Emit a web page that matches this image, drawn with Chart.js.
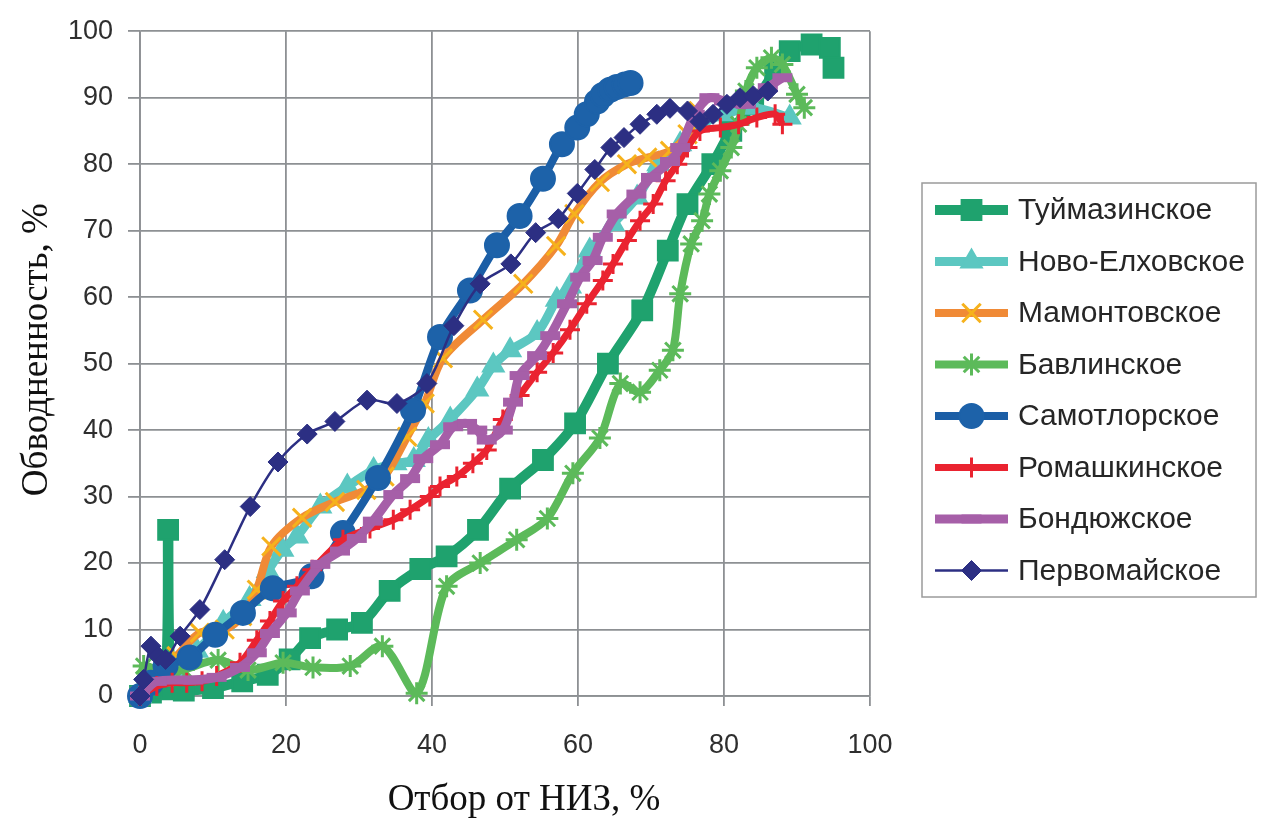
<!DOCTYPE html>
<html>
<head>
<meta charset="utf-8">
<script src="https://cdn.jsdelivr.net/npm/chart.js@4.4.1/dist/chart.umd.min.js"></script>
<style>
  html, body { margin: 0; padding: 0; background: #ffffff; }
  canvas { display: block; }
</style>
</head>
<body>
<canvas id="chart" width="1265" height="819"></canvas>
<script>
// Field names (legend order)
const fieldNames = [
  'Туймазинское', 'Ново-Елховское', 'Мамонтовское', 'Бавлинское',
  'Самотлорское', 'Ромашкинское', 'Бондюжское', 'Первомайское'
];

// Отбор от НИЗ (x, %) and обводненность (y, %) for each field
const tuymX = [0, 1.5, 3.4, 3.85, 4.3, 6, 10, 14, 17.5, 20.5, 23.3, 27, 30.4, 34.2, 38.4, 42, 46.3, 50.7, 55.2, 59.6, 64.1, 68.8, 72.3, 75, 78.4, 81, 84, 87, 89, 92, 94.5, 95];
const tuymY = [0, 0.5, 1, 25, 1.2, 0.8, 1.2, 2.2, 3.2, 5.5, 8.7, 10, 11, 15.8, 19.1, 21, 25, 31.2, 35.5, 41, 50, 58, 67, 74, 80, 85, 89, 94, 97, 98, 97.5, 94.5];

const novoX = [0, 3, 5, 7.8, 11.4, 15, 17.5, 19.5, 21.5, 24.7, 28.4, 32, 35, 37.5, 39.5, 42.5, 46.2, 48.4, 50.7, 54.4, 57.1, 58.9, 61.6, 64.8, 68.1, 71, 74, 77, 80, 84, 89];
const novoY = [0, 2.5, 4, 6.8, 11, 14.6, 18.8, 22, 24, 28.5, 31.5, 34, 35, 35.5, 38.5, 41.6, 46.1, 49.7, 52, 54.6, 59.6, 61.6, 67, 71, 75, 80, 83, 86, 87.5, 88.5, 87];

const mamX = [0, 2, 5, 8.2, 11.6, 14, 16, 18, 22.2, 26.7, 31, 33.5, 36.6, 39, 41.5, 47, 52.5, 57, 59.5, 63, 66.7, 69.5, 72.6, 75, 76.5];
const mamY = [0, 3, 6, 9.5, 10, 12, 16, 22.5, 26.8, 29.2, 31, 33, 39, 44, 50.8, 56.6, 62, 67.7, 72.5, 77.3, 80, 81, 82, 84.5, 88];

const bavX = [0, 0.5, 3, 6, 10.7, 14.8, 19.6, 23.7, 28.8, 33.2, 37.9, 42, 46.6, 51.6, 55.8, 59.3, 63, 65.8, 68.5, 71.2, 73, 74, 75.5, 77, 78, 79.5, 81, 82, 83, 84.5, 86.5, 88, 90, 91];
const bavY = [0, 4.5, 3.5, 4, 5.4, 3.9, 5, 4.3, 4.5, 7.5, 0.4, 16.5, 20, 23.5, 26.7, 33.5, 38.8, 47, 45.7, 49, 52, 60.5, 68, 71.5, 75.5, 79, 82.5, 86, 91, 94.5, 96, 95, 90.5, 88.5];

const samX = [0, 1.5, 3.5, 6.8, 10.3, 14.1, 18.2, 23.5, 27.8, 32.6, 37.4, 41.1, 45.2, 48.9, 52, 55.2, 57.8, 59.9, 61.2, 62.6, 63.4, 64.4, 65.3, 66.4, 67.2];
const samY = [0, 2, 4.5, 5.8, 9.2, 12.5, 16.2, 18, 24.5, 32.8, 43, 54, 61, 67.8, 72.2, 77.8, 83, 85.5, 87.5, 89.4, 90.4, 91.2, 91.6, 92, 92.2];

const romX = [0, 2.3, 4.4, 6.4, 8.5, 10.5, 13.7, 16, 17.8, 19.6, 21.5, 23.6, 27.8, 31.5, 34.7, 37, 39.7, 41.1, 43.4, 45.6, 47.5, 49.7, 52, 54.4, 56.6, 58.9, 61.2, 63.4, 64.8, 66.7, 68.5, 70.3, 72, 73.6, 75, 76.7, 79.5, 82, 84.5, 87, 88];
const romY = [0, 1.5, 2, 2, 2.2, 3, 5, 8.4, 11.3, 14.3, 16.5, 19, 23.5, 25.2, 26.5, 28, 30, 31.5, 33, 35, 37, 41.6, 45.2, 48.7, 51.6, 55.1, 59, 62.5, 65, 68.5, 71.5, 74, 77.5, 80, 82.5, 85, 85.5, 86, 87, 87.5, 86];

const bonX = [0, 2.3, 7.3, 10.5, 13.7, 16, 17.8, 20.1, 21.9, 24.7, 27.4, 29.7, 31.9, 34.7, 37, 38.8, 41.1, 42.9, 44.8, 46.2, 47.5, 49.7, 51.1, 52, 54.4, 56.2, 58.5, 60.3, 62, 63.4, 65.3, 68, 70, 72.6, 74, 76, 78, 80, 83, 86, 88];
const bonY = [0, 2.2, 2.4, 2.8, 4.3, 6.5, 9.4, 12.5, 15.8, 19.8, 21.8, 23.7, 26.3, 30.3, 32.7, 35.7, 37.8, 40.5, 41, 40, 38.5, 40, 44.2, 48.2, 51.2, 54.2, 59, 63, 65.5, 69, 72.5, 75.5, 78, 80.4, 82.5, 87.5, 90, 89.5, 89, 91.5, 93];

const perX = [0, 0.5, 1.5, 2.5, 3.5, 5.5, 8.2, 11.6, 15.1, 18.9, 22.9, 26.7, 31.1, 35.2, 39.3, 43, 46.6, 50.8, 54.2, 57.3, 59.9, 62.3, 64.5, 66.3, 68.5, 70.8, 72.6, 75, 76.7, 78.5, 80.4, 82.2, 84, 86];
const perY = [0, 2.5, 7.5, 6, 5.5, 9, 13, 20.5, 28.5, 35.2, 39.4, 41.3, 44.5, 44, 47, 55.7, 62, 65, 69.7, 71.8, 75.6, 79.2, 82.5, 84, 86, 87.5, 88.4, 88, 86.4, 87.5, 89, 90, 90.3, 91];

// Axis ticks and titles
const xTickValues = [0, 20, 40, 60, 80, 100];
const yTickValues = [0, 10, 20, 30, 40, 50, 60, 70, 80, 90, 100];
const xAxisTitle = 'Отбор от НИЗ, %';
const yAxisTitle = 'Обводненность, %';

// Line / marker styling per field
const styles = [
  { line: '#1fa26e', marker: '#1fa26e', width: 10, point: 'rect',     radius: 14, pbw: 2 },
  { line: '#5cc7c1', marker: '#5cc7c1', width: 9,  point: 'triangle', radius: 12, pbw: 2 },
  { line: '#f08a36', marker: '#f6b21c', width: 8,  point: 'crossRot', radius: 13, pbw: 3 },
  { line: '#5cba5a', marker: '#5cba5a', width: 8,  point: 'star',     radius: 11, pbw: 3 },
  { line: '#1b5ea6', marker: '#1d62a9', width: 8,  point: 'circle',   radius: 12, pbw: 2 },
  { line: '#ea2330', marker: '#ea2330', width: 7,  point: 'cross',    radius: 10, pbw: 3 },
  { line: '#a65fa8', marker: '#a65fa8', width: 9,  point: 'line',     radius: 10, pbw: 9 },
  { line: '#2c2f83', marker: '#2c2f83', width: 2.5, point: 'rectRot', radius: 10, pbw: 1 }
];

const xsList = [tuymX, novoX, mamX, bavX, samX, romX, bonX, perX];
const ysList = [tuymY, novoY, mamY, bavY, samY, romY, bonY, perY];

function toPoints(xs, ys) {
  return xs.map((x, i) => ({ x: x, y: ys[i] }));
}

const datasets = fieldNames.map((name, i) => ({
  label: name,
  data: toPoints(xsList[i], ysList[i]),
  borderColor: styles[i].line,
  backgroundColor: styles[i].marker,
  borderWidth: styles[i].width,
  pointStyle: styles[i].point,
  pointRadius: styles[i].radius,
  pointHoverRadius: styles[i].radius,
  pointBorderWidth: styles[i].pbw,
  pointBorderColor: styles[i].marker,
  pointBackgroundColor: styles[i].marker,
  tension: 0.3,
  fill: false,
  clip: false,
  // later fields are painted over earlier ones
  order: fieldNames.length - i
}));

const GRID = '#8d9093';
const TICK_FONT = { family: '"Liberation Sans", Arial, sans-serif', size: 27 };

// Axis titles and the boxed legend on the right
const overlayPlugin = {
  id: 'overlay',
  afterDraw(chart) {
    const ctx = chart.ctx;
    const area = chart.chartArea;

    ctx.save();
    ctx.fillStyle = '#111111';
    ctx.font = '37px "Liberation Serif", "Times New Roman", serif';
    ctx.textAlign = 'center';
    ctx.textBaseline = 'middle';
    ctx.fillText(xAxisTitle, (area.left + area.right) / 2 + 19, 800);
    ctx.translate(37, (area.top + area.bottom) / 2 - 14);
    ctx.rotate(-Math.PI / 2);
    ctx.fillText(yAxisTitle, 0, 0);
    ctx.restore();

    // legend box
    const boxL = area.right + 52, boxT = 183, boxW = 334, boxH = 414;
    ctx.save();
    ctx.strokeStyle = '#9b9b9b';
    ctx.lineWidth = 1.5;
    ctx.strokeRect(boxL, boxT, boxW, boxH);

    const rowTop = boxT + 27, rowStep = 51.5;
    const lineL = boxL + 13, lineR = boxL + 86, markX = (lineL + lineR) / 2;
    fieldNames.forEach((name, i) => {
      const st = styles[i];
      const y = rowTop + i * rowStep;
      ctx.strokeStyle = st.line;
      ctx.lineWidth = st.width;
      ctx.lineCap = 'butt';
      ctx.beginPath();
      ctx.moveTo(lineL, y);
      ctx.lineTo(lineR, y);
      ctx.stroke();

      ctx.fillStyle = st.marker;
      ctx.strokeStyle = st.marker;
      ctx.lineWidth = st.pbw;
      Chart.helpers.drawPoint(ctx, {
        pointStyle: st.point, radius: st.radius, borderWidth: st.pbw, rotation: 0
      }, markX, y);

      ctx.fillStyle = '#262626';
      ctx.font = '30px "Liberation Sans", Arial, sans-serif';
      ctx.textAlign = 'left';
      ctx.textBaseline = 'middle';
      ctx.fillText(name, boxL + 96, y + 1);
    });
    ctx.restore();
  }
};

new Chart(document.getElementById('chart'), {
  type: 'line',
  data: { datasets: datasets },
  options: {
    responsive: false,
    animation: false,
    events: [],
    layout: { padding: { left: 0, top: 26, right: 395, bottom: 0 } },
    plugins: { legend: { display: false }, tooltip: { enabled: false } },
    scales: {
      x: {
        type: 'linear',
        min: 0, max: 100,
        afterFit(scale) { scale.height = 123; },
        afterBuildTicks(scale) { scale.ticks = xTickValues.map(v => ({ value: v })); },
        ticks: { color: '#2e2e2e', font: TICK_FONT, padding: 23, maxRotation: 0 },
        grid: { color: GRID, lineWidth: 1.8, tickLength: 10, drawTicks: true },
        border: { color: GRID, width: 1.8 }
      },
      y: {
        type: 'linear',
        min: 0, max: 100,
        afterFit(scale) { scale.width = 140; },
        afterBuildTicks(scale) { scale.ticks = yTickValues.map(v => ({ value: v })); },
        ticks: { color: '#2e2e2e', font: TICK_FONT, padding: 15 },
        grid: { color: GRID, lineWidth: 1.8, tickLength: 12, drawTicks: true },
        border: { color: GRID, width: 1.8 }
      }
    }
  },
  plugins: [overlayPlugin]
});
</script>
</body>
</html>
